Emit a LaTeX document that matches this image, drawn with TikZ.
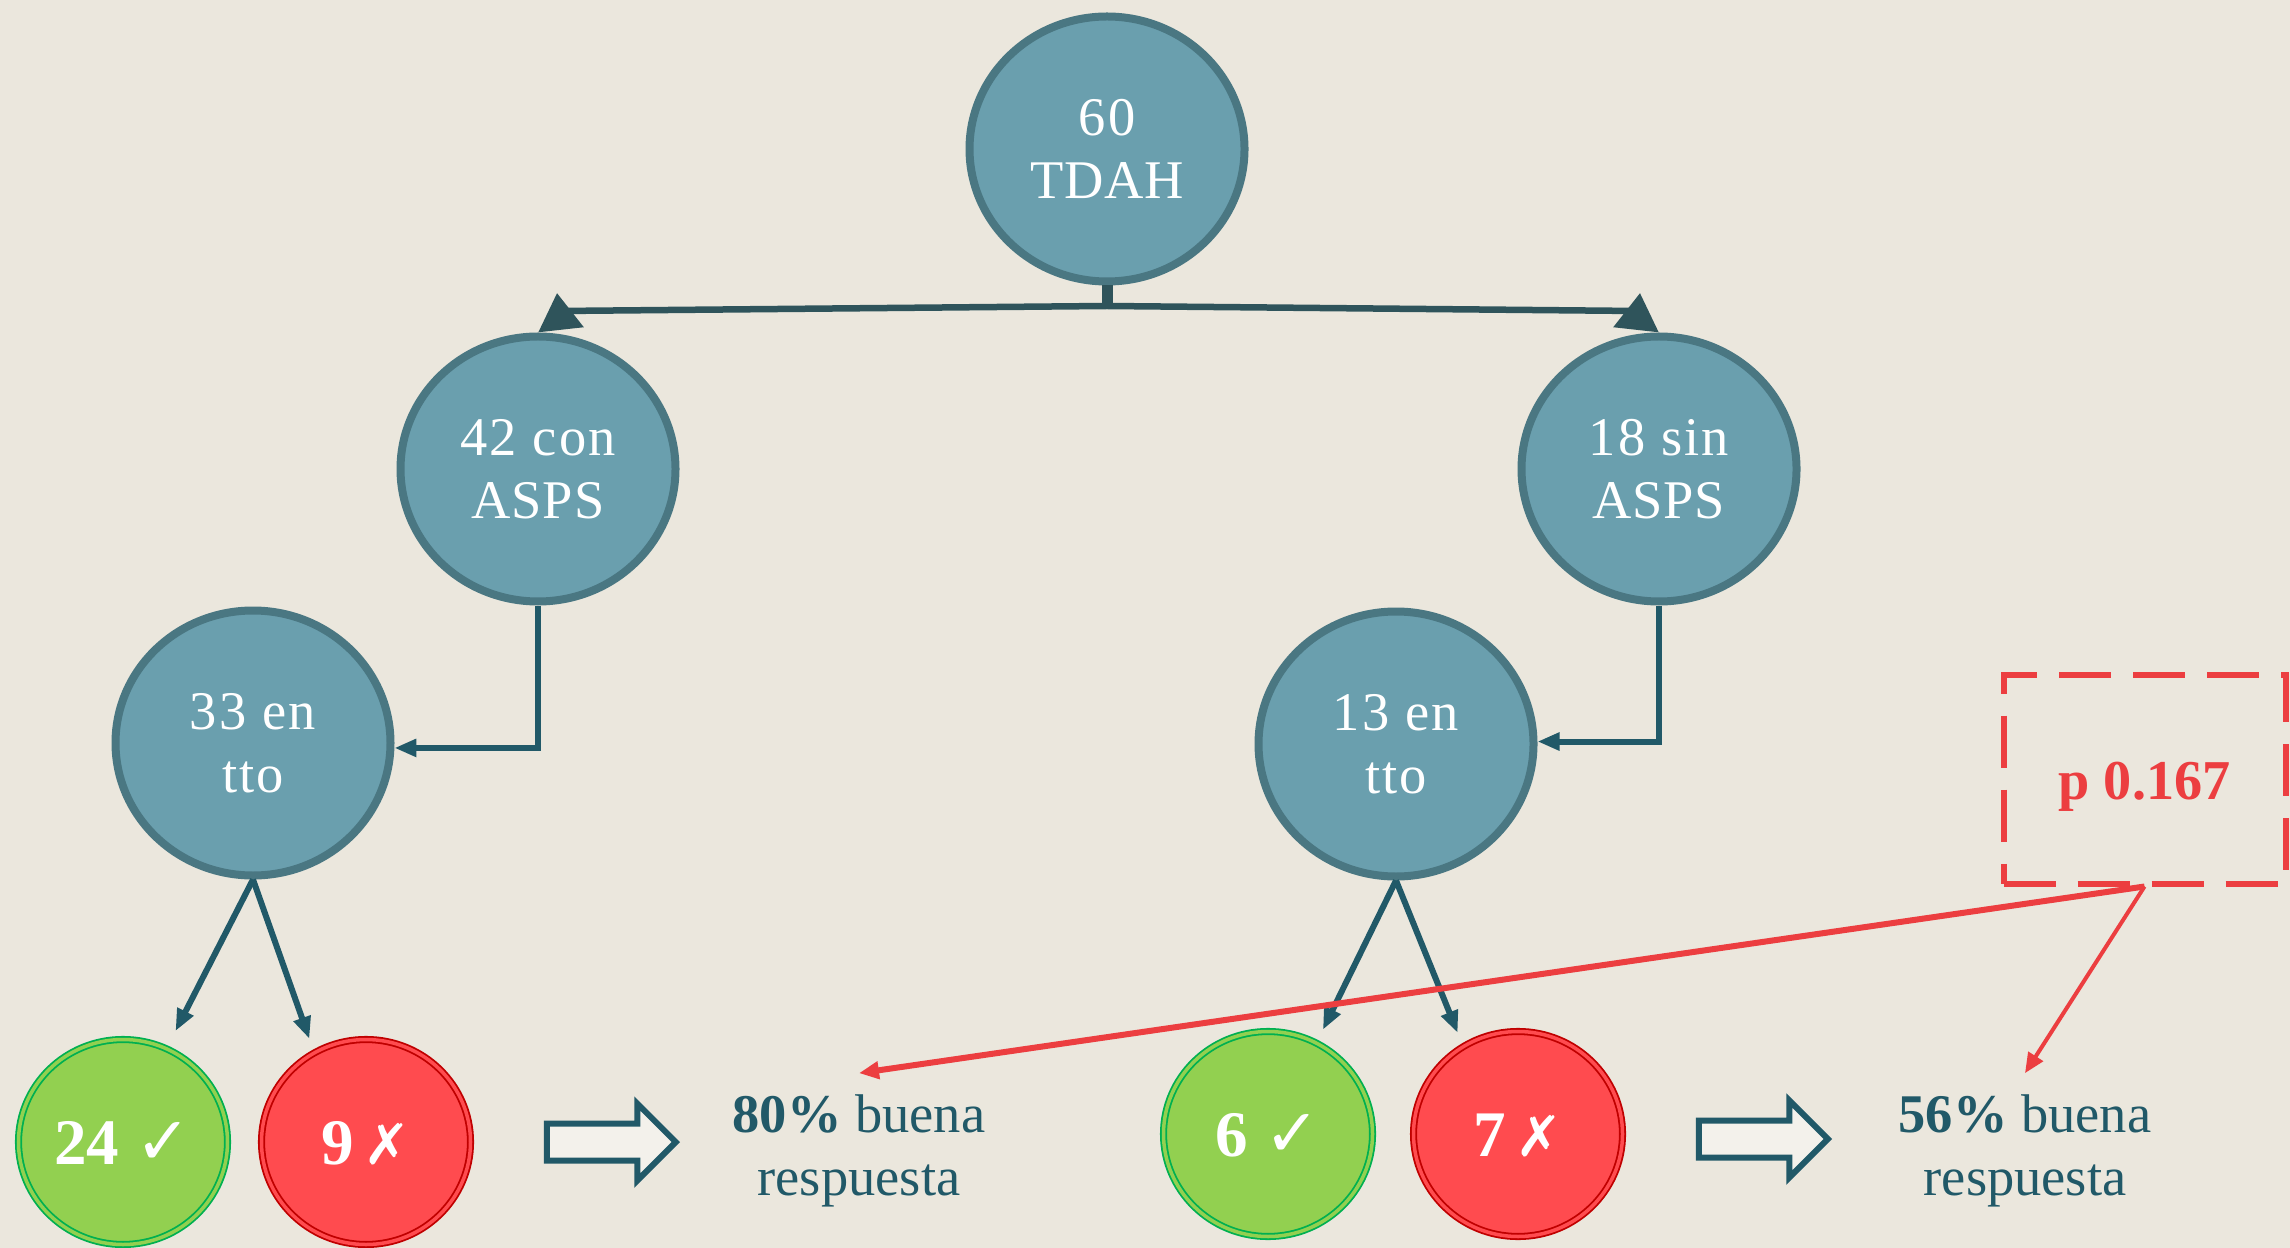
\documentclass[tikz,border=0pt]{standalone}
\usepackage{fontspec}
\setmainfont{Liberation Serif}
\newfontfamily\wideserif{Liberation Serif}[LetterSpace=4]
\newfontfamily\capserif{Liberation Serif}[LetterSpace=1.5]
\newfontfamily\marksfont{DejaVu Sans}
\usetikzlibrary{positioning,shapes.geometric,shapes.arrows,arrows.meta}
\definecolor{paper}{HTML}{EBE7DD}
\definecolor{nodeblue}{HTML}{6A9FAE}
\definecolor{nodeedge}{HTML}{4A7782}
\definecolor{treeline}{HTML}{2F545B}
\definecolor{arrowblue}{HTML}{215968}
\definecolor{okgreen}{HTML}{92D050}
\definecolor{okedge}{HTML}{00B050}
\definecolor{badred}{HTML}{FF4B4F}
\definecolor{badedge}{HTML}{C00000}
\definecolor{pred}{HTML}{EC3E40}
\newcommand{\okmark}{{\marksfont\mdseries\fontsize{19}{22}\selectfont ✓}}
\newcommand{\badmark}{{\marksfont\mdseries\fontsize{16}{22}\selectfont ✗}}
\tikzset{main node/.style={ellipse,draw=nodeedge,fill=nodeblue,line width=0.08cm,minimum width=2.75cm,minimum height=2.65cm,inner sep=0pt,align=center,text=white,font=\fontsize{15.5}{17.9}\selectfont\wideserif} }
\tikzset{result node/.style={ellipse,line width=0.018cm,double distance=0.035cm,minimum width=2.09cm,minimum height=2.05cm,inner sep=0pt,text=white,text height=0.45cm,font=\fontsize{18.5}{22}\selectfont\bfseries} }
\tikzset{ok node/.style={result node,draw=okedge,double=okgreen,fill=okgreen} }
\tikzset{bad node/.style={result node,draw=badedge,double=badred,fill=badred} }
\tikzset{big arrow/.style={single arrow,draw=arrowblue,fill=paper!60!white,line width=0.06cm,minimum height=1.29cm,inner xsep=0pt,inner ysep=0.155cm,single arrow head extend=0.2cm,single arrow head indent=0pt,shape border rotate=0} }
\tikzset{text node/.style={align=center,inner sep=0.21cm,text=arrowblue,font=\fontsize{15.5}{17.9}\selectfont} }
\tikzset{tree arrow/.style={treeline,line width=0.065cm,-{Triangle[length=0.37cm,width=0.44cm]}} }
\tikzset{thin arrow/.style={arrowblue,line width=0.06cm,-{Triangle[length=0.22cm,width=0.17cm]}} }
\tikzset{red arrow/.style={pred,-{Triangle[length=0.2cm,width=0.17cm]}} }

\begin{document}
\begin{tikzpicture}
\fill[paper] (0,0) rectangle (22.9,-12.48);
\useasboundingbox (0,0) rectangle (22.9,-12.48);
\begin{scope}[on grid]

  \node[main node] (n60) at (11.07,-1.49) {60\\{\capserif TDAH}};
  \node[main node] (n42) [below left =3.2cm and 5.69cm of n60] {42 con\\{\capserif ASPS}};
  \node[main node] (n18) [below right =3.2cm and 5.52cm of n60] {18 sin\\{\capserif ASPS}};
  \node[main node] (n33) [below left =2.74cm and 2.85cm of n42] {33 en\\tto};
  \node[main node] (n13) [below left =2.75cm and 2.63cm of n18] {13 en\\tto};

  \node[ok node] (g24) [below left =3.99cm and 1.3cm of n33] {24 \okmark};
  \node[bad node] (r9) [right =2.43cm of g24] {9\hspace{0.15em}\badmark};
  \node[big arrow] (a1) [right =2.36cm of r9] {};
  \node[text node] (res80) [below right =0.09cm and 2.57cm of a1] {\textbf{80\%} buena\\respuesta};

  \node[ok node] (g6) [below left =3.9cm and 1.28cm of n13] {6 \okmark};
  \node[bad node] (r7) [right =2.5cm of g6] {7\hspace{0.15em}\badmark};
  \node[big arrow] (a2) [below right =0.05cm and 2.36cm of r7] {};
  \node[text node] (res56) [below right =0.12cm and 2.71cm of a2] {\textbf{56\%} buena\\respuesta};

  \node[draw=pred,dash pattern=on 0.52cm off 0.22cm,line width=0.06cm,minimum width=2.82cm,minimum height=2.09cm,inner sep=0pt,text=pred,text height=0.52cm,font=\fontsize{16}{19}\selectfont\bfseries] (pbox) [below right =0.35cm and 7.485cm of n13] {p 0.167};

  \coordinate (join) at (11.07,-3.06);
  \coordinate (kneeL) at (5.59,-3.11);
  \coordinate (tipL) at (5.57,-2.93);
  \coordinate (kneeR) at (16.38,-3.11);
  \coordinate (tipR) at (16.4,-2.93);

  \draw[treeline,line width=0.11cm] (n60.south) -- (join);
  \draw[tree arrow] (join) -- (kneeL) -- (tipL);
  \draw[tree arrow] (join) -- (kneeR) -- (tipR);

  \draw[thin arrow] (n42.south) |- (n33.-2);
  \draw[thin arrow] (n18.south) |- (n13.1);

  \path[thin arrow]
    (n33.south) edge [shorten >=0.19cm] (g24.65)
    (n33.south) edge [shorten >=0.14cm] (r9.120)
    (n13.south) edge [shorten >=0.14cm] (g6.62)
    (n13.south) edge [shorten >=0.14cm] (r7.122)
    ;

  \draw[red arrow,line width=0.06cm] (pbox.south) -- (res80.north);
  \draw[red arrow,line width=0.04cm] (pbox.south) -- (res56.north);
\end{scope}
\end{tikzpicture}
\end{document}
